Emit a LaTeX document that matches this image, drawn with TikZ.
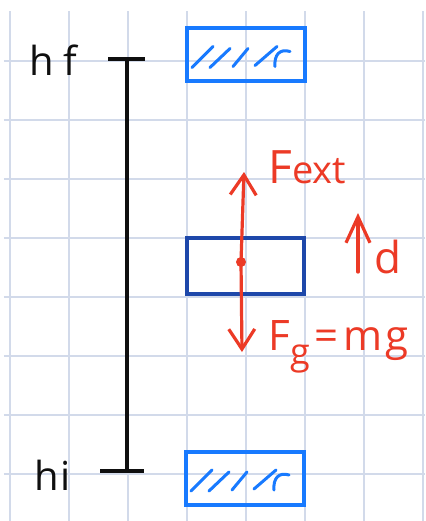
\documentclass[tikz,border=0pt]{standalone}
\usepackage{fontspec}
\setmainfont{Open Sans}
\usetikzlibrary{arrows.meta}
\definecolor{gridc}{RGB}{210,218,234}
\definecolor{boxlight}{RGB}{24,122,255}
\definecolor{boxdark}{RGB}{30,72,170}
\definecolor{pen}{RGB}{236,58,38}
\definecolor{ink}{RGB}{15,15,15}
\tikzset{
  gridline/.style={draw=gridc, line width=0.7pt},
  lightbox/.style={draw=boxlight, line width=2pt, rectangle, inner sep=0pt, minimum width=59pt, minimum height=26.5pt},
  darkbox/.style={draw=boxdark, line width=2pt, rectangle, inner sep=0pt, minimum width=58.5pt, minimum height=28pt},
  bar/.style={draw=ink, line width=2pt},
  force/.style={draw=pen, line width=1.6pt, line cap=round, -{Straight Barb[length=10pt,width=13pt,line width=1.6pt]}},
  disp/.style={draw=pen, line width=1.6pt, line cap=round, -{Straight Barb[length=13pt,width=12pt,line width=1.6pt]}},
  lbl/.style={anchor=base west, inner sep=0pt},
  hatch/.pic={
    \begin{scope}[draw=boxlight, line width=1.5pt, line cap=round]
      \draw (-54,13) -- (-33,-8);
      \draw (-36,13) -- (-16,-6);
      \draw (-13,12) -- (2,-6);
      \draw (9,11) -- (31,-8);
      \draw (29,12) .. controls (28,0) and (34,-6) .. (44,-3);
    \end{scope}
  }
}
\begin{document}
\begin{tikzpicture}[x=0.5pt,y=-0.5pt]
\useasboundingbox (0,0) rectangle (425,521);
\fill[white] (0,0) rectangle (425,521);
% grid
\foreach \x in {10,69,...,423} \draw[gridline] (\x,11) -- (\x,521);
\foreach \y in {61,120,...,474} \draw[gridline] (4,\y) -- (425,\y);
% height bar
\coordinate (hftop) at (127,59);
\coordinate (hibot) at (127,471);
\coordinate (hfl) at (108,59);
\coordinate (hfr) at (145,59);
\coordinate (hil) at (100,471);
\coordinate (hir) at (144,471);
\draw[bar] (hftop) -- (hibot);
\draw[bar] (hfl) -- (hfr);
\draw[bar] (hil) -- (hir);
\node[lbl, text=ink] (hf) at (29,75) {\fontsize{20}{20}\selectfont h\hspace{5pt}f};
\node[lbl, text=ink] (hi) at (34,490) {\fontsize{20}{20}\selectfont h\hspace{1pt}i};
% boxes
\node[lightbox] (top) at (246,54.5) {};
\pic at (top.center) {hatch};
\node[darkbox] (mid) at (245.5,266) {};
\node[lightbox] (bot) at (245,478) {};
\pic at (bot.center) {hatch};
% forces
\coordinate (cg) at (241,262);
\coordinate (up) at (244,172);
\coordinate (down) at (242,352);
\draw[force] (cg) -- (up);
\draw[force] (cg) -- (down);
\fill[pen] (cg) circle (5);
\node[lbl, text=pen] (fext) at (268,183) {\fontsize{23}{23}\selectfont F\fontsize{19}{19}\selectfont ext};
\node[lbl, text=pen] (fg) at (268,350) {\fontsize{21}{21}\selectfont F\raisebox{-0.35em}{\fontsize{18}{18}\selectfont g}\hspace{2.5pt}=\hspace{2.5pt}m\hspace{1.5pt}g};
% displacement
\coordinate (d0) at (358,272);
\coordinate (d1) at (358,213);
\draw[disp] (d0) -- (d1);
\node[lbl, text=pen] (dl) at (374,273) {\fontsize{22}{22}\selectfont d};
\end{tikzpicture}
\end{document}
